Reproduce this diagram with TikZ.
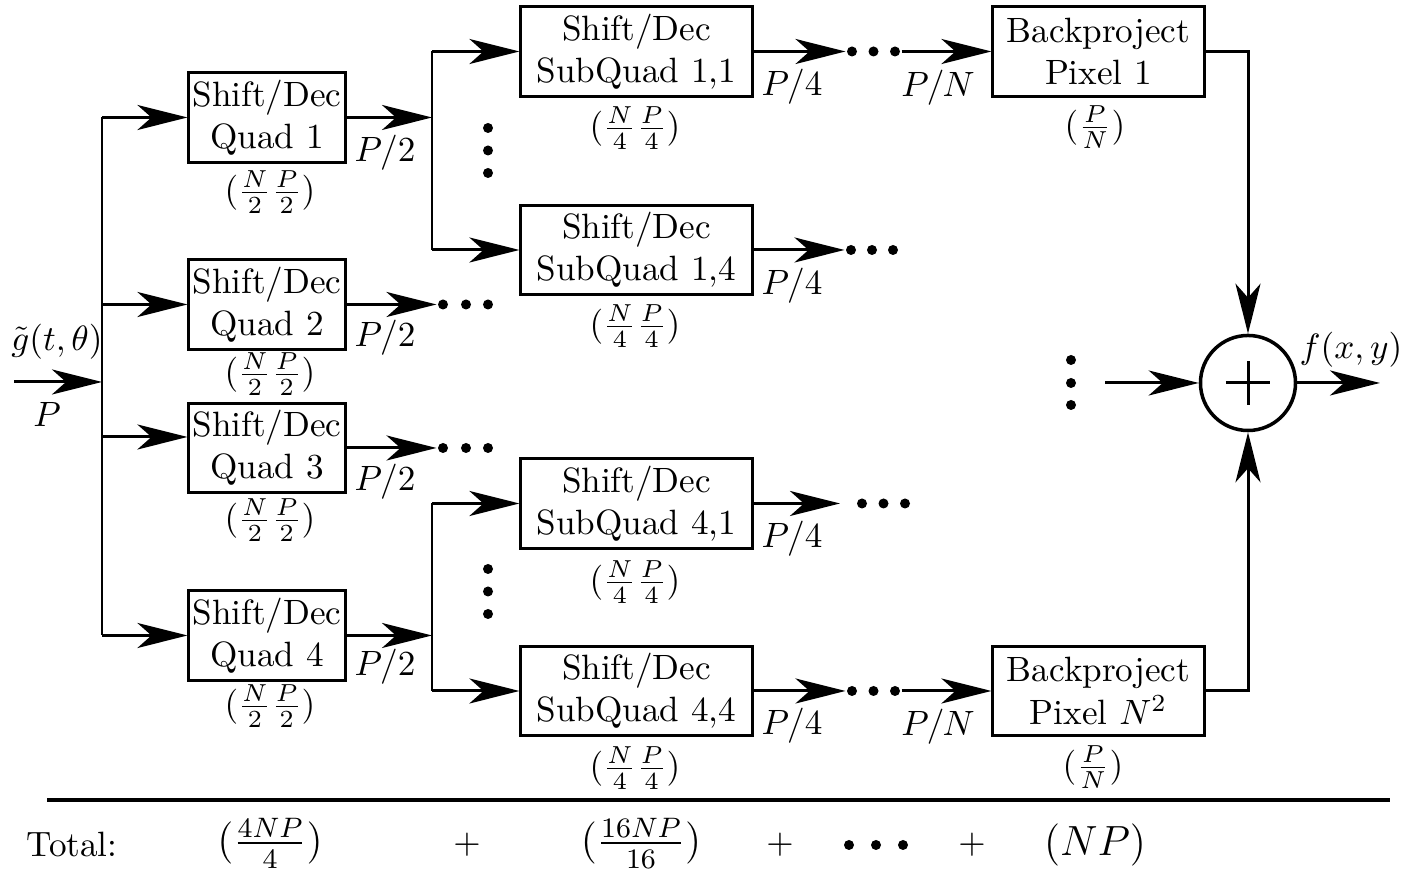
\documentclass[tikz,border=0pt]{standalone}
\usetikzlibrary{arrows.meta}
\begin{document}
\begin{tikzpicture}[x=0.01cm,y=-0.01cm,
  line width=0.85pt,
  box/.style={draw, line width=0.85pt, align=center, inner sep=0pt, minimum height=0.89cm},
  qbox/.style={box, minimum width=1.56cm},
  sbox/.style={box, minimum width=2.31cm},
  bbox/.style={box, minimum width=2.11cm},
  arr/.style={-{Stealth[length=5mm,width=2.5mm,inset=1.4mm]}},
  dot/.style={circle, fill, draw=none, inner sep=0pt, minimum size=0.1cm},
  lbl/.style={inner sep=0pt},
]
\useasboundingbox (0,0) rectangle (1402,874);

% boxes
\node[qbox] (q1) at (267,117.5) {Shift/Dec\\Quad 1};
\node[qbox] (q2) at (267,304.5) {Shift/Dec\\Quad 2};
\node[qbox] (q3) at (267,448) {Shift/Dec\\Quad 3};
\node[qbox] (q4) at (267,635.5) {Shift/Dec\\Quad 4};
\node[sbox] (s11) at (636.5,51.5) {Shift/Dec\\SubQuad 1,1};
\node[sbox] (s14) at (636.5,250) {Shift/Dec\\SubQuad 1,4};
\node[sbox] (s41) at (636.5,503.5) {Shift/Dec\\SubQuad 4,1};
\node[sbox] (s44) at (636.5,691) {Shift/Dec\\SubQuad 4,4};
\node[bbox] (b1) at (1098.5,51.5) {Backproject\\Pixel 1};
\node[bbox] (bn) at (1098.5,691) {Backproject\\Pixel $N^2$};
\node[circle, draw, line width=1pt, minimum size=0.95cm, inner sep=0pt] (sum) at (1248,383) {};
\draw ([xshift=-0.22cm]sum.center) -- ([xshift=0.22cm]sum.center);
\draw ([yshift=-0.22cm]sum.center) -- ([yshift=0.22cm]sum.center);

% input bus
\coordinate (in) at (14,382);
\coordinate (bus) at (102,382);
\coordinate (c1) at (102,117.5);
\coordinate (c2) at (102,304.5);
\coordinate (c3) at (102,437);
\coordinate (c4) at (102,635.5);
\draw[arr] (in) -- (bus);
\draw (c1) -- (c4);
\draw[arr] (c1) -- (c1 -| q1.west);
\draw[arr] (c2) -- (c2 -| q2.west);
\draw[arr] (c3) -- (c3 -| q3.west);
\draw[arr] (c4) -- (c4 -| q4.west);

% level 1 outputs
\coordinate (j1) at (432,117.5);
\coordinate (j11) at (432,51.5);
\coordinate (j14) at (432,250);
\draw[arr] (q1.east) -- (j1);
\draw (j11) -- (j14);
\draw[arr] (j11) -- (j11 -| s11.west);
\draw[arr] (j14) -- (j14 -| s14.west);

\node[dot] (d2a) at (443,304.5) {};
\node[dot] (d2b) at (466,304.5) {};
\node[dot] (d2c) at (488,304.5) {};
\draw[arr] (q2.east) -- (d2a);

\node[dot] (d3a) at (443,448) {};
\node[dot] (d3b) at (466,448) {};
\node[dot] (d3c) at (488,448) {};
\draw[arr] (q3.east) -- (d3a);

\coordinate (j4) at (432,635.5);
\coordinate (j41) at (432,503.5);
\coordinate (j44) at (432,691);
\draw[arr] (q4.east) -- (j4);
\draw (j41) -- (j44);
\draw[arr] (j41) -- (j41 -| s41.west);
\draw[arr] (j44) -- (j44 -| s44.west);

% vertical dots
\node[dot] (v1a) at (488,128) {};
\node[dot] (v1b) at (488,150.5) {};
\node[dot] (v1c) at (488,173) {};
\node[dot] (v4a) at (488,569) {};
\node[dot] (v4b) at (488,591.5) {};
\node[dot] (v4c) at (488,614) {};

% subquad outputs
\node[dot] (e11a) at (852,51.5) {};
\node[dot] (e11b) at (873.5,51.5) {};
\node[dot] (e11c) at (895,51.5) {};
\draw[arr] (s11.east) -- (e11a);
\draw[arr] (e11c) -- (b1.west);

\node[dot] (e14a) at (851,250) {};
\node[dot] (e14b) at (872,250) {};
\node[dot] (e14c) at (893,250) {};
\draw[arr] (s14.east) -- (e14a);

\coordinate (t41) at (840,503.5);
\node[dot] (e41a) at (862,503.5) {};
\node[dot] (e41b) at (883.5,503.5) {};
\node[dot] (e41c) at (905,503.5) {};
\draw[arr] (s41.east) -- (t41);

\node[dot] (e44a) at (852,691) {};
\node[dot] (e44b) at (873.5,691) {};
\node[dot] (e44c) at (895,691) {};
\draw[arr] (s44.east) -- (e44a);
\draw[arr] (e44c) -- (bn.west);

% summation
\draw[arr] (b1.east) -| (sum.north);
\draw[arr] (bn.east) -| (sum.south);
\node[dot] (sa) at (1071,360) {};
\node[dot] (sb) at (1071,383) {};
\node[dot] (sc) at (1071,405) {};
\coordinate (sin) at (1105,383);
\draw[arr] (sin) -- (sum.west);
\coordinate (out) at (1380,383);
\draw[arr] (sum.east) -- (out);

% labels
\node[lbl] (lg) at (57,342) {$\tilde g(t,\theta)$};
\node[lbl] (lp) at (47,415) {$P$};
\node[lbl] (lf) at (1351,350) {$f(x,y)$};
\node[lbl] (p2a) at (385,153) {$P/2$};
\node[lbl] (p2b) at (385,338) {$P/2$};
\node[lbl] (p2c) at (385,482) {$P/2$};
\node[lbl] (p2d) at (385,667) {$P/2$};
\node[lbl] (p4a) at (792,87) {$P/4$};
\node[lbl] (p4b) at (792,286) {$P/4$};
\node[lbl] (p4c) at (792,539) {$P/4$};
\node[lbl] (p4d) at (792,726) {$P/4$};
\node[lbl] (pna) at (938,88) {$P/N$};
\node[lbl] (pnb) at (938,727) {$P/N$};

\node[lbl] (cq1) at (270,192) {$(\frac{N}{2}\frac{P}{2})$};
\node[lbl] (cq2) at (270,374) {$(\frac{N}{2}\frac{P}{2})$};
\node[lbl] (cq3) at (270,520) {$(\frac{N}{2}\frac{P}{2})$};
\node[lbl] (cq4) at (270,706) {$(\frac{N}{2}\frac{P}{2})$};
\node[lbl] (cs11) at (635,128) {$(\frac{N}{4}\frac{P}{4})$};
\node[lbl] (cs14) at (635,326) {$(\frac{N}{4}\frac{P}{4})$};
\node[lbl] (cs41) at (635,582) {$(\frac{N}{4}\frac{P}{4})$};
\node[lbl] (cs44) at (635,768) {$(\frac{N}{4}\frac{P}{4})$};
\node[lbl] (cb1) at (1095,127) {$(\frac{P}{N})$};
\node[lbl] (cbn) at (1093,767) {$(\frac{P}{N})$};

% total row
\draw[line width=1pt] (47,800) -- (1390,800);
\node[lbl] (tot) at (72,845) {Total:};
\node[lbl] (t1) at (270,843) {\large$(\frac{4NP}{4})$};
\node[lbl] (tp1) at (467,845) {$+$};
\node[lbl] (t2) at (641,843) {\large$(\frac{16NP}{16})$};
\node[lbl] (tp2) at (780,845) {$+$};
\node[dot] (ta) at (849,845) {};
\node[dot] (tb) at (876,845) {};
\node[dot] (tc) at (903,845) {};
\node[lbl] (tp3) at (972,845) {$+$};
\node[lbl] (t3) at (1095,845) {\large$(NP)$};
\end{tikzpicture}
\end{document}
